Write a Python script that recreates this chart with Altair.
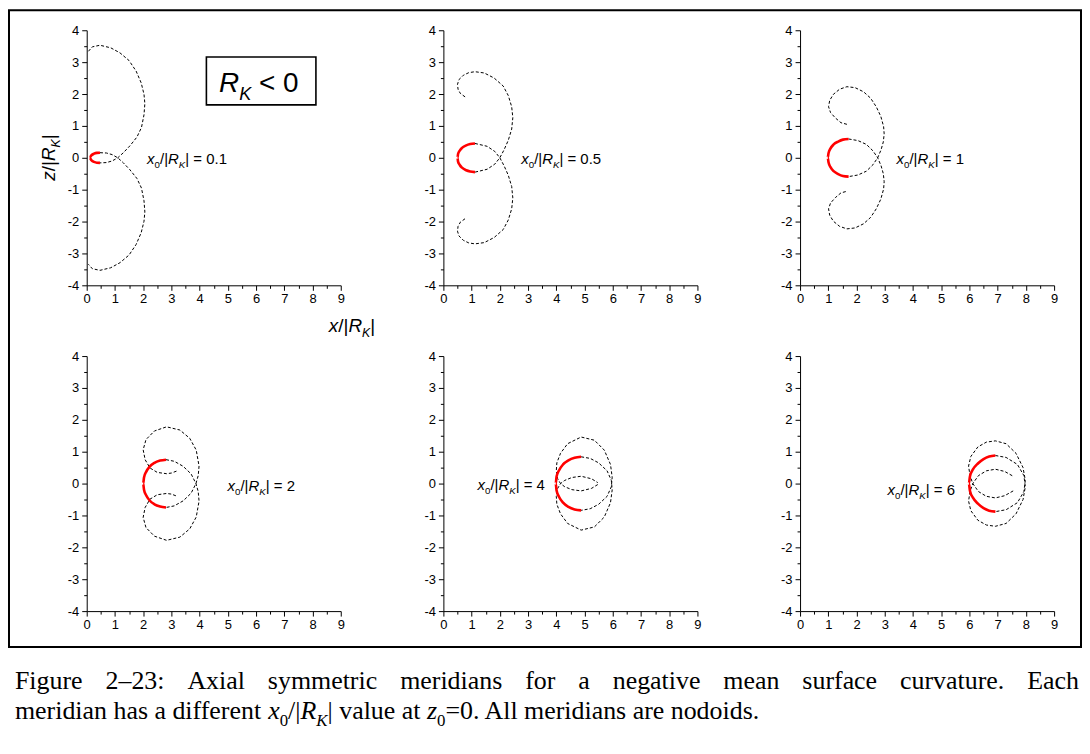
import altair as alt
import pandas as pd

# ---------------- values ----------------
X0_LABELS = ["0.1", "0.5", "1", "2", "4", "6"]

# dashed meridian: upper branch (free end -> lower end of red arc) and lower branch (upper end of red arc -> free end)
UP_X_1 = [0.06, 0.2, 0.47, 0.85, 1.18, 1.5, 1.75, 1.93, 2.03, 2.06, 2.03, 1.94, 1.78, 1.53, 1.3, 1.1, 0.9, 0.7, 0.47]
UP_Z_1 = [3.34, 3.48, 3.53, 3.45, 3.29, 3.05, 2.72, 2.35, 1.99, 1.7, 1.35, 0.95, 0.65, 0.375, 0.16, 0.0, -0.1, -0.15, -0.16]
LO_X_1 = [0.47, 0.7, 0.9, 1.1, 1.3, 1.53, 1.78, 1.94, 2.03, 2.06, 2.03, 1.93, 1.75, 1.5, 1.18, 0.85, 0.47, 0.2, 0.06]
LO_Z_1 = [0.16, 0.15, 0.1, 0.0, -0.16, -0.375, -0.65, -0.95, -1.35, -1.7, -1.99, -2.35, -2.72, -3.05, -3.29, -3.45, -3.53, -3.48, -3.34]
RED_X_1 = [0.47, 0.36, 0.26, 0.17, 0.1, 0.17, 0.26, 0.36, 0.47]
RED_Z_1 = [-0.16, -0.155, -0.13, -0.08, 0.0, 0.08, 0.13, 0.155, 0.16]

UP_X_2 = [0.77, 0.6, 0.52, 0.5, 0.55, 0.71, 0.9, 1.12, 1.45, 1.8, 2.12, 2.3, 2.42, 2.46, 2.42, 2.3, 2.15, 2.0, 1.82, 1.55, 1.12]
UP_Z_2 = [1.91, 2.02, 2.15, 2.3, 2.45, 2.59, 2.67, 2.7, 2.66, 2.5, 2.25, 1.95, 1.6, 1.26, 0.9, 0.55, 0.25, 0.0, -0.2, -0.36, -0.45]
LO_X_2 = [1.12, 1.55, 1.82, 2.0, 2.15, 2.3, 2.42, 2.46, 2.42, 2.3, 2.12, 1.8, 1.45, 1.12, 0.9, 0.71, 0.55, 0.5, 0.52, 0.6, 0.77]
LO_Z_2 = [0.45, 0.36, 0.2, 0.0, -0.25, -0.55, -0.9, -1.26, -1.6, -1.95, -2.25, -2.5, -2.66, -2.7, -2.67, -2.59, -2.45, -2.3, -2.15, -2.02, -1.91]
RED_X_2 = [1.12, 0.95, 0.81, 0.66, 0.58, 0.52, 0.5, 0.52, 0.58, 0.66, 0.81, 0.95, 1.12]
RED_Z_2 = [-0.45, -0.43, -0.39, -0.31, -0.225, -0.12, 0.0, 0.12, 0.225, 0.31, 0.39, 0.43, 0.45]

UP_X_3 = [1.66, 1.45, 1.25, 1.08, 1.01, 1.05, 1.18, 1.4, 1.66, 1.95, 2.25, 2.5, 2.7, 2.86, 2.96, 2.98, 2.95, 2.87, 2.75, 2.58, 2.35, 2.05, 1.72]
UP_Z_3 = [1.05, 1.1, 1.25, 1.42, 1.6, 1.8, 1.99, 2.15, 2.23, 2.2, 2.07, 1.87, 1.6, 1.3, 0.98, 0.75, 0.5, 0.25, 0.0, -0.22, -0.42, -0.54, -0.59]
LO_X_3 = [1.72, 2.05, 2.35, 2.58, 2.75, 2.87, 2.95, 2.98, 2.96, 2.86, 2.7, 2.5, 2.25, 1.95, 1.66, 1.4, 1.18, 1.05, 1.01, 1.08, 1.25, 1.45, 1.66]
LO_Z_3 = [0.59, 0.54, 0.42, 0.22, 0.0, -0.25, -0.5, -0.75, -0.98, -1.3, -1.6, -1.87, -2.07, -2.2, -2.23, -2.15, -1.99, -1.8, -1.6, -1.42, -1.25, -1.1, -1.05]
RED_X_3 = [1.72, 1.52, 1.35, 1.19, 1.08, 1.01, 0.98, 1.01, 1.08, 1.19, 1.35, 1.52, 1.72]
RED_Z_3 = [-0.59, -0.57, -0.51, -0.42, -0.295, -0.15, 0.0, 0.15, 0.295, 0.42, 0.51, 0.57, 0.59]

UP_X_4 = [3.18, 3.0, 2.83, 2.5, 2.24, 2.07, 2.0, 2.1, 2.4, 2.83, 3.3, 3.65, 3.88, 3.98, 3.95, 3.87, 3.7, 3.42, 3.1, 2.81]
UP_Z_4 = [0.39, 0.33, 0.31, 0.35, 0.49, 0.75, 1.06, 1.38, 1.65, 1.78, 1.68, 1.42, 1.05, 0.55, 0.25, 0.0, -0.3, -0.54, -0.7, -0.75]
LO_X_4 = [2.81, 3.1, 3.42, 3.7, 3.87, 3.95, 3.98, 3.88, 3.65, 3.3, 2.83, 2.4, 2.1, 2.0, 2.07, 2.24, 2.5, 2.83, 3.0, 3.18]
LO_Z_4 = [0.75, 0.7, 0.54, 0.3, 0.0, -0.25, -0.55, -1.05, -1.42, -1.68, -1.78, -1.65, -1.38, -1.06, -0.75, -0.49, -0.35, -0.31, -0.33, -0.39]
RED_X_4 = [2.81, 2.6, 2.4, 2.23, 2.11, 2.03, 2.0, 2.03, 2.11, 2.23, 2.4, 2.6, 2.81]
RED_Z_4 = [-0.75, -0.72, -0.65, -0.53, -0.375, -0.19, 0.0, 0.19, 0.375, 0.53, 0.65, 0.72, 0.75]

UP_X_5 = [5.47, 5.25, 4.88, 4.55, 4.3, 4.15, 4.05, 4.0, 4.02, 4.15, 4.4, 4.88, 5.35, 5.7, 5.92, 5.98, 5.95, 5.8, 5.5, 5.2, 4.88]
UP_Z_5 = [-0.03, -0.15, -0.23, -0.19, -0.1, 0.0, 0.15, 0.4, 0.65, 0.95, 1.25, 1.46, 1.36, 1.05, 0.6, 0.2, -0.1, -0.4, -0.65, -0.79, -0.84]
LO_X_5 = [4.88, 5.2, 5.5, 5.8, 5.95, 5.98, 5.92, 5.7, 5.35, 4.88, 4.4, 4.15, 4.02, 4.0, 4.05, 4.15, 4.3, 4.55, 4.88, 5.25, 5.47]
LO_Z_5 = [0.84, 0.79, 0.65, 0.4, 0.1, -0.2, -0.6, -1.05, -1.36, -1.46, -1.25, -0.95, -0.65, -0.4, -0.15, 0.0, 0.1, 0.19, 0.23, 0.15, 0.03]
RED_X_5 = [4.88, 4.65, 4.43, 4.24, 4.1, 4.01, 3.98, 4.01, 4.1, 4.24, 4.43, 4.65, 4.88]
RED_Z_5 = [-0.84, -0.81, -0.73, -0.6, -0.42, -0.22, 0.0, 0.22, 0.42, 0.6, 0.73, 0.81, 0.84]

UP_X_6 = [7.55, 7.25, 6.92, 6.6, 6.32, 6.12, 6.02, 5.97, 6.05, 6.3, 6.6, 6.92, 7.3, 7.65, 7.9, 7.98, 7.93, 7.7, 7.3, 6.92]
UP_Z_6 = [-0.23, -0.38, -0.45, -0.4, -0.25, 0.0, 0.25, 0.55, 0.85, 1.15, 1.3, 1.34, 1.25, 0.95, 0.5, 0.1, -0.25, -0.6, -0.82, -0.88]
LO_X_6 = [6.92, 7.3, 7.7, 7.93, 7.98, 7.9, 7.65, 7.3, 6.92, 6.6, 6.3, 6.05, 5.97, 6.02, 6.12, 6.32, 6.6, 6.92, 7.25, 7.55]
LO_Z_6 = [0.88, 0.82, 0.6, 0.25, -0.1, -0.5, -0.95, -1.25, -1.34, -1.3, -1.15, -0.85, -0.55, -0.25, 0.0, 0.25, 0.4, 0.45, 0.38, 0.23]
RED_X_6 = [6.92, 6.7, 6.5, 6.3, 6.13, 6.02, 5.98, 6.02, 6.13, 6.3, 6.5, 6.7, 6.92]
RED_Z_6 = [-0.88, -0.85, -0.77, -0.63, -0.45, -0.23, 0.0, 0.23, 0.45, 0.63, 0.77, 0.85, 0.88]

UP_X = [UP_X_1, UP_X_2, UP_X_3, UP_X_4, UP_X_5, UP_X_6]
UP_Z = [UP_Z_1, UP_Z_2, UP_Z_3, UP_Z_4, UP_Z_5, UP_Z_6]
LO_X = [LO_X_1, LO_X_2, LO_X_3, LO_X_4, LO_X_5, LO_X_6]
LO_Z = [LO_Z_1, LO_Z_2, LO_Z_3, LO_Z_4, LO_Z_5, LO_Z_6]
RED_X = [RED_X_1, RED_X_2, RED_X_3, RED_X_4, RED_X_5, RED_X_6]
RED_Z = [RED_Z_1, RED_Z_2, RED_Z_3, RED_Z_4, RED_Z_5, RED_Z_6]

# axis ticks
X_TICKS = [0, 0.5, 1, 1.5, 2, 2.5, 3, 3.5, 4, 4.5, 5, 5.5, 6, 6.5, 7, 7.5, 8, 8.5, 9]
Y_TICKS = [-4, -3.5, -3, -2.5, -2, -1.5, -1, -0.5, 0, 0.5, 1, 1.5, 2, 2.5, 3, 3.5, 4]

# annotation anchors (data coordinates, start of the text at baseline)
LABEL_X = [2.14, 2.76, 3.42, 4.99, 1.21, 3.10]
LABEL_Z = [-0.19, -0.20, -0.20, -0.24, -0.19, -0.35]

CAPTION_1 = "Figure 2\u201323: Axial symmetric meridians for a negative mean surface curvature. Each"

# ---------------- layout helpers ----------------
W, H = 255, 256
XS = alt.Scale(domain=[0, 9], nice=False, zero=False)
YS = alt.Scale(domain=[-4, 4], nice=False, zero=False)

SANS = {' ': 278, 'x': 500, 'z': 500, '0': 556, '1': 556, '2': 556, '4': 556, '5': 556, '6': 556,
        '.': 278, '/': 278, '|': 260, 'R': 722, 'K': 667, '=': 584, '<': 584}
SANS_I = {}
SERIF = {' ': 250, 'A': 722, 'E': 611, 'F': 556, 'a': 444, 'c': 444, 'd': 500, 'e': 444, 'f': 333,
         'g': 500, 'h': 500, 'i': 278, 'l': 278, 'm': 778, 'n': 500, 'o': 500, 'r': 333, 's': 389,
         't': 278, 'u': 500, 'v': 500, 'x': 500, 'y': 500, 'z': 444, '0': 500, '2': 500, '3': 500,
         '\u2013': 500, ':': 278, '.': 250, '=': 564, '/': 278, '|': 200, 'R': 667, 'K': 722}
SERIF_I = {'x': 444, 'z': 389, 'R': 611, 'K': 667}

ONE = pd.DataFrame({"a": [0]})

LABEL_EXPR = "datum.value % 1 === 0 ? '' + datum.value : ''"
TICK_SIZE = {"condition": {"test": "datum.value % 1 !== 0", "value": 3}, "value": 5}
AX_X = alt.Axis(values=X_TICKS, title=None, grid=False, labelExpr=LABEL_EXPR, tickSize=TICK_SIZE,
                labelOverlap=False, labelFlush=False, labelPadding=2, labelFontSize=13,
                labelFont='Liberation Sans', labelColor='black')
AX_Y = alt.Axis(values=Y_TICKS, title=None, grid=False, labelExpr=LABEL_EXPR, tickSize=TICK_SIZE,
                labelOverlap=False, labelFlush=False, labelPadding=3, labelFontSize=13,
                labelFont='Liberation Sans', labelColor='black')


def ex(field):
    return alt.X(field, scale=XS, axis=AX_X)


def ey(field):
    return alt.Y(field, scale=YS, axis=AX_Y)


def text_w(text, size, italic, table, itable):
    tot = 0
    for c in text:
        if italic and c in itable:
            tot += itable[c]
        else:
            tot += table.get(c, 500)
    return tot * size / 1000.0


def rich(segs, size, font, table, itable, xenc, yenc, data, angle=0):
    out = []
    off = 0.0
    for text, style in segs:
        italic = 'i' in style
        sub = 's' in style
        fs = size * 0.65 if sub else size
        shown = text.lstrip(' ')
        lead = text_w(' ' * (len(text) - len(shown)), fs, False, table, itable)
        if shown.strip():
            m = alt.Chart(data).mark_text(
                text=shown, align='left', baseline='alphabetic', dx=off + lead,
                dy=size * 0.28 if sub else 0, fontSize=fs,
                fontStyle='italic' if italic else 'normal', font=font, color='black', angle=angle)
            out.append(m.encode(x=xenc, y=yenc))
        off += text_w(text, fs, italic, table, itable)
    return out


def panel(k):
    rows = []
    for j, (x, z) in enumerate(zip(UP_X[k], UP_Z[k])):
        rows.append({"x": x, "z": z, "part": "up", "o": j})
    for j, (x, z) in enumerate(zip(LO_X[k], LO_Z[k])):
        rows.append({"x": x, "z": z, "part": "lo", "o": j})
    dashed = alt.Chart(pd.DataFrame(rows)).mark_line(
        color='black', strokeWidth=1, strokeDash=[3, 2]).encode(
        x=ex('x:Q'), y=ey('z:Q'), detail='part:N', order='o:Q')
    red_df = pd.DataFrame({"x": RED_X[k], "z": RED_Z[k], "o": list(range(len(RED_X[k])))})
    red = alt.Chart(red_df).mark_line(color='#ff0000', strokeWidth=2.6, interpolate='monotone').encode(
        x=ex('x:Q'), y=ey('z:Q'), order='o:Q')
    pos = pd.DataFrame({"x": [LABEL_X[k]], "z": [LABEL_Z[k]]})
    lab = rich([("x", "i"), ("0", "s"), ("/|", "n"), ("R", "i"), ("K", "si"), ("| = " + X0_LABELS[k], "n")],
               15, "Liberation Sans", SANS, SANS_I, ex('x:Q'), ey('z:Q'), pos)
    layers = [dashed, red] + lab

    if k == 0:
        # outer frame of the figure
        frame = alt.Chart(ONE).mark_rect(fill='transparent', stroke='black', strokeWidth=2).encode(
            x=alt.value(-78), x2=alt.value(998), y=alt.value(-20), y2=alt.value(619))
        # boxed "R_K < 0"
        box_df = pd.DataFrame({"x1": [4.24], "x2": [8.12], "z1": [1.66], "z2": [3.16]})
        box = alt.Chart(box_df).mark_rect(fill='white', stroke='black', strokeWidth=1.6).encode(
            x=ex('x1:Q'), x2='x2:Q', y=ey('z1:Q'), y2='z2:Q')
        rk = rich([("R", "i"), ("K", "si"), (" < 0", "n")], 28, "Liberation Sans", SANS, SANS_I,
                  ex('x:Q'), ey('z:Q'), pd.DataFrame({"x": [4.69], "z": [2.06]}))
        ztitle = rich([("z", "i"), ("/|", "n"), ("R", "i"), ("K", "si"), ("|", "n")], 19,
                      "Liberation Sans", SANS, SANS_I, alt.value(-32), alt.value(151), ONE, angle=270)
        xtitle = rich([("x", "i"), ("/|", "n"), ("R", "i"), ("K", "si"), ("|", "n")], 19,
                      "Liberation Sans", SANS, SANS_I, alt.value(243), alt.value(303), ONE)
        # caption, line 1 justified
        cap = []
        words = CAPTION_1.split(' ')
        size = 26
        left, right = -72, 996
        widths = [text_w(w, size, False, SERIF, SERIF_I) for w in words]
        gap = (right - left - sum(widths)) / (len(words) - 1)
        xpos = left
        for w, wd in zip(words, widths):
            cap.append(alt.Chart(ONE).mark_text(
                text=w, align='left', baseline='alphabetic', fontSize=size,
                font='Liberation Serif', color='black').encode(x=alt.value(xpos), y=alt.value(661)))
            xpos += wd + gap
        cap2 = rich([("meridian has a different ", "n"), ("x", "i"), ("0", "s"), ("/|", "n"), ("R", "i"),
                     ("K", "si"), ("| value at ", "n"), ("z", "i"), ("0", "s"),
                     ("=0. All meridians are nodoids.", "n")],
                    size, "Liberation Serif", SERIF, SERIF_I, alt.value(-72), alt.value(691), ONE)
        layers = [frame] + layers + [box] + rk + ztitle + xtitle + cap + cap2

    return alt.layer(*layers).properties(width=W, height=H)


panels = [panel(k) for k in range(6)]

chart = alt.concat(*panels, columns=3, spacing={"row": 71, "column": 103}, bounds="flush",
                   padding=0, background='white').configure_view(stroke=None).configure_axis(
    domainColor='black', domainWidth=1, tickColor='black', tickWidth=1)

chart.save("out.html", embed_options={"renderer": "svg", "actions": False})
